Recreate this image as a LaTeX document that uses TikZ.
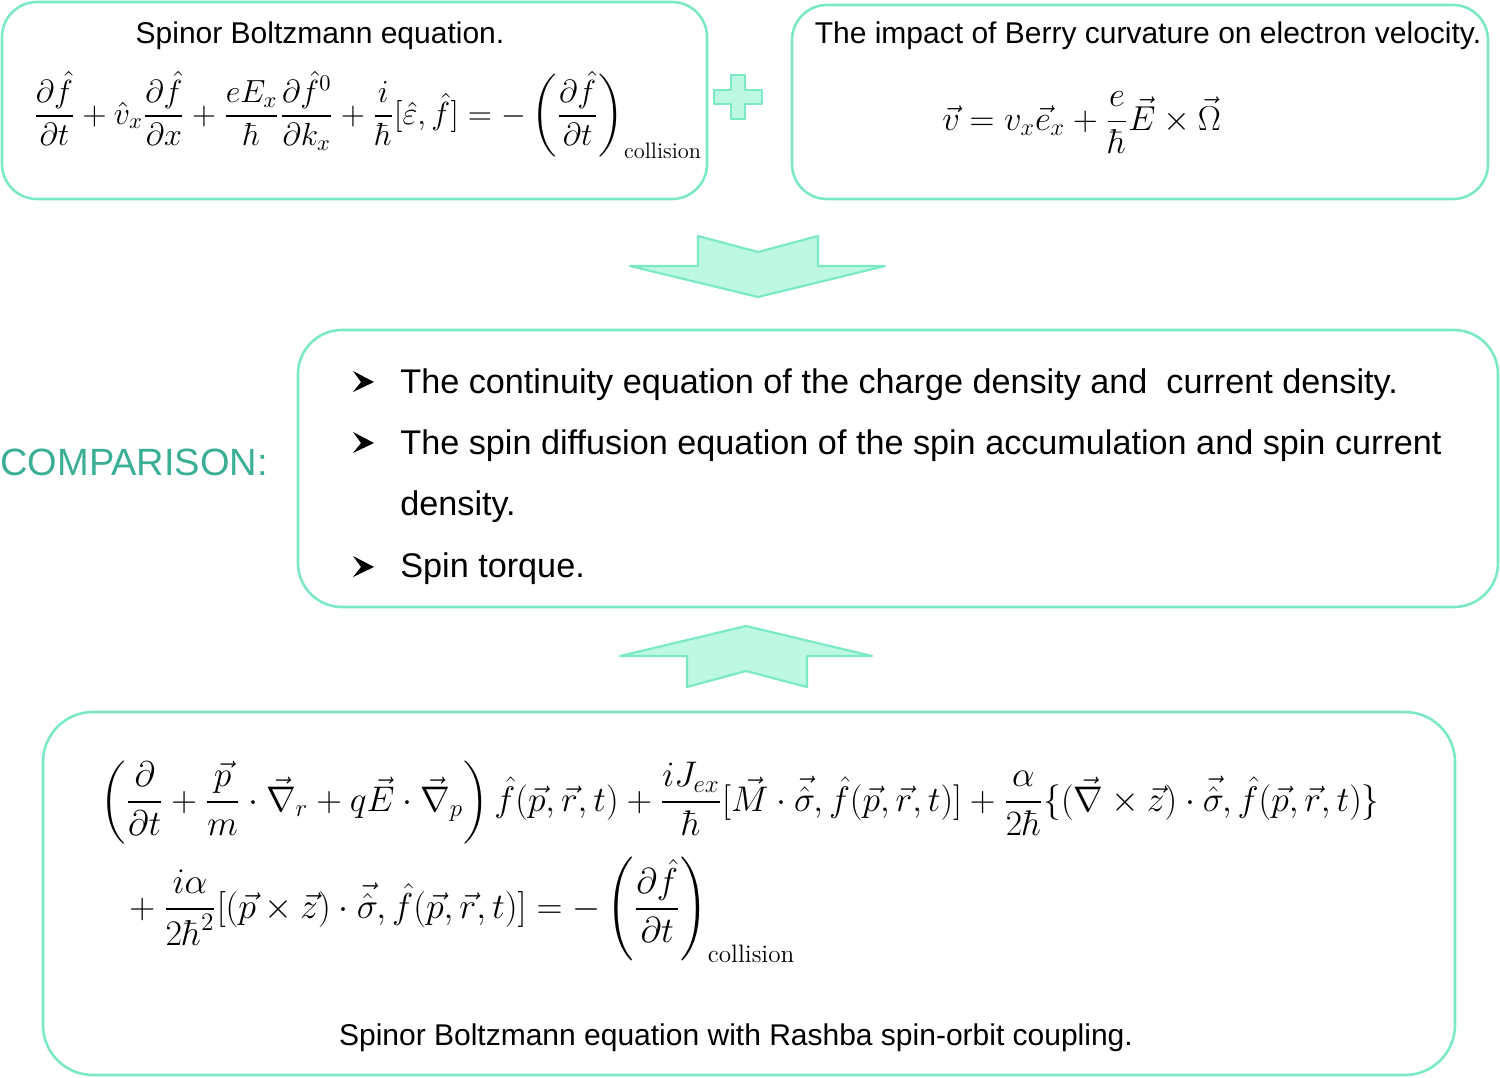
\RequirePackage{fix-cm}
\documentclass[tikz,border=0pt]{standalone}
\usepackage{amsmath}
\usepackage{fontspec}
\newfontfamily\arial{Liberation Sans}
\definecolor{mintline}{HTML}{7BE9C3}
\definecolor{mintfill}{HTML}{BDF8E0}
\definecolor{tealtext}{HTML}{3BAF95}
\tikzset{
  box/.style={draw=mintline, line width=1.3pt},
  bigarrow/.style={draw=mintline, fill=mintfill, line width=1.1pt, line join=round},
  lbl/.style={inner sep=0pt, font=\arial\fontsize{15}{18}\selectfont},
  item/.style={inner sep=0pt, anchor=base west, font=\arial\fontsize{17.1}{20}\selectfont},
  eq/.style={inner sep=0pt, anchor=base west},
  bullet/.style={fill=black},
}
\begin{document}
\begin{tikzpicture}[x=0.5pt,y=-0.5pt]
\useasboundingbox (0,0) rectangle (1500,1077);
% boxes
\draw[box, rounded corners=17.5pt] (2,2) rectangle (707,199);
\draw[box, rounded corners=17.5pt] (792,5) rectangle (1488,199);
\draw[box, rounded corners=22pt] (298,330) rectangle (1498,607);
\draw[box, rounded corners=25pt] (43,712) rectangle (1455,1075);
% plus
\draw[bigarrow] (731,75) -- (745,75) -- (745,90) -- (762,90) -- (762,104) -- (745,104) -- (745,119) -- (731,119) -- (731,104) -- (714,104) -- (714,90) -- (731,90) -- cycle;
% down arrow
\draw[bigarrow] (698,236) -- (758,252) -- (818,236) -- (818,266) -- (885,266) -- (758,297) -- (630,266) -- (698,266) -- cycle;
% up arrow
\draw[bigarrow] (746,626) -- (872,656) -- (807,656) -- (807,687) -- (746,671) -- (687,687) -- (687,656) -- (620,656) -- cycle;
% texts
\node[lbl, anchor=base] (t1) at (320,43) {Spinor Boltzmann equation.};
\node[lbl, anchor=base] (t2) at (1148,43) {The impact of Berry curvature on electron velocity.};
\node[eq, font=\fontsize{16}{19}\selectfont] (e1) at (33,124) {$\displaystyle \frac{\partial\hat f}{\partial t}+\hat v_x\frac{\partial \hat f}{\partial x}+\frac{eE_x}{\hbar}\frac{\partial \hat f^0}{\partial k_x}+\frac{i}{\hbar}[\hat\varepsilon,\hat f]=-\left(\frac{\partial\hat f}{\partial t}\right)_{\mathrm{collision}}$};
\node[eq, font=\fontsize{17.3}{21}\selectfont] (e2) at (942,130) {$\displaystyle \vec v=v_x\vec e_x+\frac{e}{\hbar}\vec E\times\vec\Omega$};
\node[inner sep=0pt, anchor=base west, text=tealtext, font=\arial\fontsize{19}{22}\selectfont] (cmp) at (0,475) {COMPARISON:};
% bullets
\fill[bullet] (353,371) -- (374,382) -- (353,392) -- (361,382) -- cycle;
\fill[bullet] (353,432) -- (374,443) -- (353,453) -- (361,443) -- cycle;
\fill[bullet] (353,556) -- (374,567) -- (353,577) -- (361,567) -- cycle;
\node[item] (i1) at (400,393) {The continuity equation of the charge density and\ \ current density.};
\node[item] (i2) at (400,454) {The spin diffusion equation of the spin accumulation and spin current};
\node[item] (i2b) at (400,515) {density.};
\node[item] (i3) at (400,577) {Spin torque.};
% bottom equation
\node[eq, font=\fontsize{17.8}{22}\selectfont] (e3) at (100,811) {$\displaystyle \left(\frac{\partial}{\partial t}+\frac{\vec p}{m}\cdot\vec\nabla_r+q\vec E\cdot\vec\nabla_p\right)\hat f(\vec p,\vec r,t)+\frac{iJ_{ex}}{\hbar}[\vec M\cdot\vec{\hat\sigma},\hat f(\vec p,\vec r,t)]+\frac{\alpha}{2\hbar}\{(\vec\nabla\times\vec z)\cdot\vec{\hat\sigma},\hat f(\vec p,\vec r,t)\}$};
\node[eq, font=\fontsize{18}{22}\selectfont] (e4) at (121,918) {$\displaystyle {}+\frac{i\alpha}{2\hbar^2}[(\vec p\times\vec z)\cdot\vec{\hat\sigma},\hat f(\vec p,\vec r,t)]=-\left(\frac{\partial\hat f}{\partial t}\right)_{\mathrm{collision}}$};
\node[lbl, anchor=base] (t3) at (736,1045) {Spinor Boltzmann equation with Rashba spin-orbit coupling.};
\end{tikzpicture}
\end{document}
